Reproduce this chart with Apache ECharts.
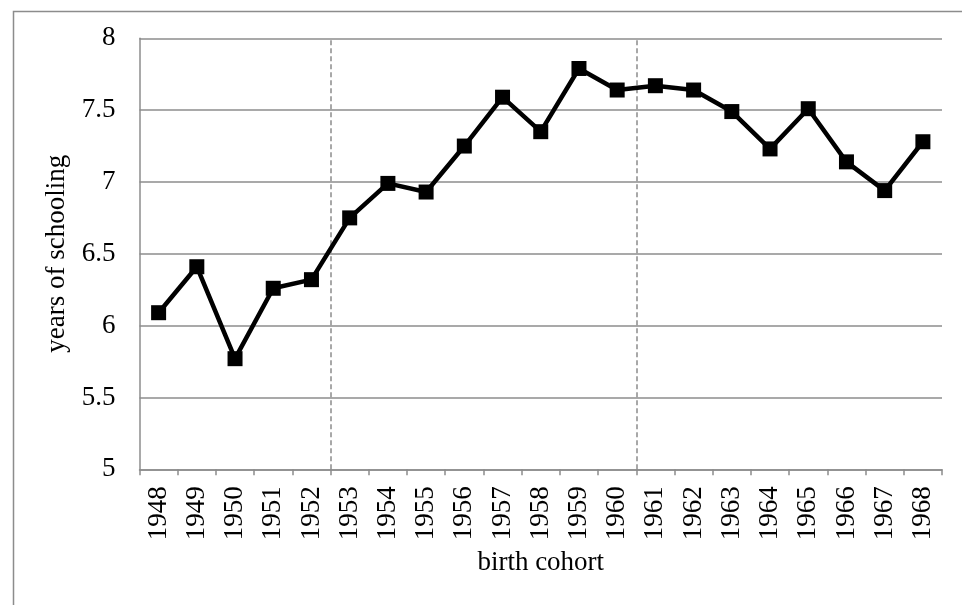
<!DOCTYPE html>
<html>
<head>
<meta charset="utf-8">
<script src="https://cdn.jsdelivr.net/npm/echarts@6/dist/echarts.min.js"></script>
<style>
html,body{margin:0;padding:0;background:#fff;}
#chart{width:962px;height:605px;}
</style>
</head>
<body>
<div id="chart"></div>
<script>
var categories = ['1948','1949','1950','1951','1952','1953','1954','1955','1956','1957','1958','1959','1960','1961','1962','1963','1964','1965','1966','1967','1968'];
var schooling = [6.09,6.41,5.77,6.26,6.32,6.75,6.99,6.93,7.25,7.59,7.35,7.79,7.64,7.67,7.64,7.49,7.23,7.51,7.14,6.94,7.28];
var dividerPositions = [4.5, 12.5];
var yMin = 5, yMax = 8, yStep = 0.5;

var FONT = '"Liberation Serif", "Times New Roman", serif';
var GRAY = '#8c8c8c';
var FS = 27;

var chart = echarts.init(document.getElementById('chart'), null, {renderer: 'canvas'});
var dividerLines = dividerPositions.map(function (p) {
  return [{coord: [p, yMin]}, {coord: [p, yMax]}];
});

chart.setOption({
  animation: false,
  backgroundColor: '#ffffff',
  graphic: [{
    type: 'rect',
    left: 11, top: 9,
    shape: {width: 1200, height: 800},
    style: {fill: 'none', stroke: GRAY, lineWidth: 1.5},
    silent: true
  }],
  grid: {left: 139.5, right: 20, top: 38.3, bottom: 135.7, containLabel: false},
  xAxis: [{
    type: 'category',
    data: categories,
    boundaryGap: true,
    name: 'birth cohort',
    nameLocation: 'middle',
    nameGap: 80,
    nameTextStyle: {fontFamily: FONT, fontSize: FS, color: '#000'},
    axisLine: {show: true, onZero: false, lineStyle: {color: GRAY, width: 1.5}},
    axisTick: {show: true, length: 6, lineStyle: {color: GRAY, width: 1.5}},
    axisLabel: {rotate: 90, margin: 17, fontFamily: FONT, fontSize: FS, color: '#000', interval: 0},
    splitLine: {show: false}
  }, {
    type: 'value',
    min: -0.5, max: categories.length - 0.5,
    show: false
  }],
  yAxis: {
    type: 'value',
    min: yMin, max: yMax, interval: yStep,
    name: 'years of schooling',
    nameLocation: 'middle',
    nameGap: 64,
    nameRotate: 90,
    nameTextStyle: {fontFamily: FONT, fontSize: FS, color: '#000'},
    axisLine: {show: true, onZero: false, lineStyle: {color: GRAY, width: 1.5}},
    axisTick: {show: false},
    axisLabel: {margin: 24, fontFamily: FONT, fontSize: FS, color: '#000'},
    splitLine: {show: true, lineStyle: {color: GRAY, width: 1.5}}
  },
  series: [{
    type: 'line',
    data: schooling,
    symbol: 'rect',
    symbolSize: 15,
    showSymbol: true,
    lineStyle: {color: '#000', width: 4.5},
    itemStyle: {color: '#000'},
    z: 5
  }, {
    type: 'line',
    xAxisIndex: 1,
    data: [],
    markLine: {
      silent: true,
      symbol: ['none', 'none'],
      label: {show: false},
      lineStyle: {color: GRAY, type: [5, 3], width: 1.5},
      data: dividerLines
    }
  }]
});
</script>
</body>
</html>
